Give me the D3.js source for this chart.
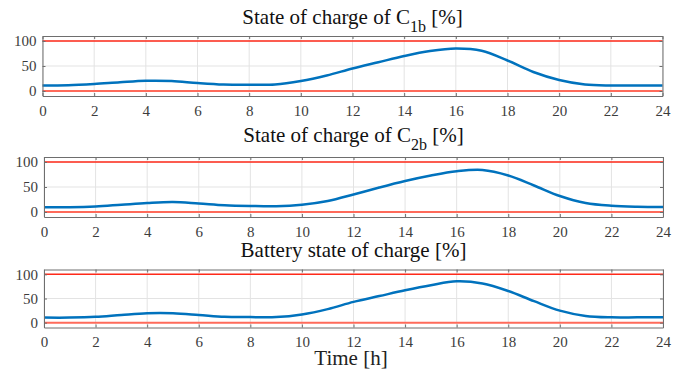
<!DOCTYPE html>
<html>
<head>
<meta charset="utf-8">
<script src="https://cdn.jsdelivr.net/npm/d3@7"></script>
<style>
  body { margin: 0; background: #fff; }
  svg { display: block; font-family: "Liberation Serif", "Times New Roman", serif; }
</style>
</head>
<body>
<div id="chart"></div>
<script>
// hours of the day
const hours = [0, 1, 2, 3, 4, 5, 6, 7, 8, 9, 10, 11, 12, 13, 14, 15, 16, 17, 18, 19, 20, 21, 22, 23, 24];
// state of charge [%]
const socC1b = [11, 11.5, 14, 17.5, 20.5, 20, 16, 13, 12.5, 13, 20, 31, 45, 57.5, 70, 80, 85, 80.5, 61, 38, 22, 13, 11, 11, 11];
const socC2b = [9.5, 9.5, 11, 14.5, 18, 20, 17, 13.5, 12, 11.5, 14.5, 22, 35, 49, 62, 73, 81.5, 84, 73, 53, 32, 18, 12.5, 10.5, 10];
const socBat = [10.5, 10.5, 12, 16, 19.5, 19.5, 16, 12, 11.5, 11.5, 17, 28, 43, 55, 67, 77.5, 85.5, 81, 65.5, 44.5, 25, 14, 11, 11, 11];
const limits = [0, 100];
const xTicks = d3.range(0, 25, 2);
const yTicks = [0, 50, 100];

const width = 689, height = 371;
const serif = '"Liberation Serif", "Times New Roman", serif';
const svg = d3.select('#chart').append('svg')
  .attr('width', width)
  .attr('height', height);

const panels = [
  { title: 'State of charge of C', sub: '1b', values: socC1b, top: 36, bottom: 96, left: 42.5, right: 662.5, titleY: 23.5 },
  { title: 'State of charge of C', sub: '2b', values: socC2b, top: 157, bottom: 217, left: 44, right: 663, titleY: 141.5 },
  { title: 'Battery state of charge [%]', sub: null, values: socBat, top: 269.5, bottom: 327.5, left: 44, right: 663, titleY: 256.5 }
];

panels.forEach(p => {
  const x = d3.scaleLinear().domain([0, 24]).range([p.left, p.right]);
  const y = d3.scaleLinear().domain([-10, 110]).range([p.bottom, p.top]);
  const g = svg.append('g');

  // grid
  g.selectAll('.vgrid').data(xTicks).enter().append('line')
    .attr('x1', d => x(d)).attr('x2', d => x(d))
    .attr('y1', p.top).attr('y2', p.bottom)
    .attr('stroke', '#e3e3e3').attr('stroke-width', 1);
  g.selectAll('.hgrid').data(yTicks).enter().append('line')
    .attr('x1', p.left).attr('x2', p.right)
    .attr('y1', d => y(d)).attr('y2', d => y(d))
    .attr('stroke', '#e3e3e3').attr('stroke-width', 1);

  // limit lines
  g.selectAll('.limit').data(limits).enter().append('line')
    .attr('x1', p.left).attr('x2', p.right)
    .attr('y1', d => y(d)).attr('y2', d => y(d))
    .attr('stroke', d => d === 0 ? '#ff6b5b' : '#ff2a1a')
    .attr('stroke-width', d => d === 0 ? 2 : 1.5);

  // data line
  const line = d3.line()
    .x((d, i) => x(hours[i]))
    .y(d => y(d))
    .curve(d3.curveCatmullRom.alpha(0.5));
  g.append('path')
    .datum(p.values)
    .attr('d', line)
    .attr('fill', 'none')
    .attr('stroke', '#0072BD')
    .attr('stroke-width', 2.5);

  // axes
  const xAxis = d3.axisBottom(x).tickValues(xTicks).tickSizeInner(-3).tickSizeOuter(0).tickPadding(9);
  const yAxis = d3.axisLeft(y).tickValues(yTicks).tickSizeInner(-3).tickSizeOuter(0).tickPadding(6);
  const yRight = d3.axisRight(y).tickValues(yTicks).tickSizeInner(-3).tickSizeOuter(0).tickFormat('');
  const xTop = d3.axisTop(x).tickValues(xTicks).tickSizeInner(-3).tickSizeOuter(0).tickFormat('');

  const axes = [
    g.append('g').attr('transform', `translate(0,${p.bottom})`).call(xAxis),
    g.append('g').attr('transform', `translate(${p.left},0)`).call(yAxis),
    g.append('g').attr('transform', `translate(${p.right},0)`).call(yRight),
    g.append('g').attr('transform', `translate(0,${p.top})`).call(xTop)
  ];
  axes.forEach(a => {
    a.attr('font-family', serif).attr('font-size', 15);
    a.select('.domain').attr('stroke', '#6e6e6e');
    a.selectAll('.tick line').attr('stroke', '#6e6e6e');
    a.selectAll('.tick text').attr('fill', '#3c3c3c');
  });

  // title
  const t = svg.append('text')
    .attr('x', (p.left + p.right) / 2)
    .attr('y', p.titleY)
    .attr('text-anchor', 'middle')
    .attr('fill', '#111')
    .attr('font-family', serif)
    .attr('font-size', 21)
    .text(p.title);
  if (p.sub) {
    t.append('tspan').attr('dy', 8).attr('font-size', 16).text(p.sub);
    t.append('tspan').attr('dy', -8).text(' [%]');
  }
});

svg.append('text')
  .attr('x', 351)
  .attr('y', 365)
  .attr('text-anchor', 'middle')
  .attr('fill', '#222')
  .attr('font-family', serif)
  .attr('font-size', 21)
  .text('Time [h]');
</script>
</body>
</html>
